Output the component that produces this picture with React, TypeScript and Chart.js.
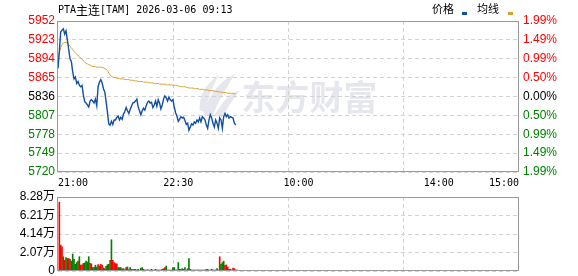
import React, { useEffect, useRef } from 'react';
import { Chart, registerables } from 'chart.js';

Chart.register(...registerables);

const TITLE = 'PTA主连[TAM] 2026-03-06 09:13';
const LEGEND_LABELS = ['价格', '均线'];
const WATERMARK = '东方财富';
const BASE_PRICE = 5836;
const PRICE_TICKS = [5720, 5749, 5778, 5807, 5836, 5865, 5894, 5923, 5952];
const VOL_TICKS = [0, 20700, 41400, 62100, 82800];
const TIME_TICKS = [0, 90, 180, 285, 345];
const TIME_LABELS = ['21:00', '22:30', '10:00', '14:00', '15:00'];
const TOTAL_MIN = 345;

const prices = [
  5879, 5905, 5935, 5938, 5940, 5932, 5937, 5923, 5909, 5894,
  5890, 5874, 5863, 5866, 5856, 5859, 5853, 5851, 5853, 5838,
  5828, 5826, 5823, 5820, 5829, 5831, 5829, 5826, 5832, 5822,
  5851, 5858, 5862, 5857, 5848, 5843, 5828, 5812, 5794, 5792,
  5798, 5793, 5800, 5800, 5804, 5806, 5800, 5804, 5801, 5809,
  5813, 5819, 5814, 5810, 5816, 5821, 5826, 5827, 5829, 5832,
  5820, 5814, 5808, 5814, 5818, 5815, 5822, 5827, 5829, 5826,
  5827, 5819, 5823, 5829, 5821, 5831, 5826, 5817, 5823, 5832,
  5837, 5834, 5829, 5835, 5831, 5829, 5831, 5820, 5811, 5806,
  5798, 5801, 5805, 5803, 5804, 5799, 5793, 5795, 5784, 5789,
  5794, 5792, 5797, 5795, 5800, 5797, 5803, 5797, 5805, 5803,
  5800, 5792, 5787, 5800, 5808, 5803, 5795, 5789, 5800, 5795,
  5787, 5803, 5800, 5787, 5805, 5810, 5805, 5808, 5803, 5805,
  5804, 5803, 5795, 5792,
];

const avgPrices = [
  5890, 5904, 5911, 5916, 5918, 5919, 5919, 5918, 5916, 5913,
  5911, 5908, 5905, 5903, 5901, 5899, 5897, 5895, 5893, 5891,
  5889, 5887, 5886, 5885, 5884, 5883, 5882, 5882, 5882, 5881,
  5881, 5881, 5881, 5881, 5880, 5879, 5878, 5876, 5872, 5869,
  5867, 5866, 5865, 5865, 5864, 5864, 5864, 5863, 5863, 5863,
  5862, 5862, 5862, 5862, 5861, 5861, 5861, 5860, 5860, 5860,
  5859, 5859, 5859, 5859, 5858, 5858, 5858, 5858, 5857, 5857,
  5857, 5857, 5856, 5856, 5856, 5856, 5855, 5855, 5855, 5855,
  5855, 5854, 5854, 5854, 5854, 5854, 5853, 5853, 5853, 5853,
  5852, 5852, 5851, 5851, 5851, 5851, 5850, 5850, 5849, 5849,
  5849, 5849, 5848, 5848, 5848, 5848, 5847, 5847, 5847, 5847,
  5846, 5846, 5846, 5845, 5845, 5845, 5845, 5844, 5844, 5844,
  5843, 5843, 5843, 5842, 5842, 5842, 5842, 5841, 5841, 5841,
  5841, 5841, 5840, 5840,
];

const volumes = [
  77000, 29000, 27000, 16000, 12000, 15000, 14000, 14000, 13000, 11000,
  19000, 13000, 7500, 9500, 11000, 16000, 6500, 6800, 8500, 9000,
  11000, 10000, 16000, 8500, 8000, 3800, 4200, 6500, 4300, 7300,
  5600, 7500, 6500, 3400, 2600, 5200, 7000, 7500, 12000, 35000,
  12000, 9400, 8300, 7900, 3800, 3800, 3800, 2300, 2600, 1500,
  3800, 4500, 1500, 3800, 1900, 1500, 1900, 1900, 1100, 1900,
  1100, 3400, 3800, 1900, 1100, 1100, 1500, 1100, 1100, 1900,
  1100, 1100, 1900, 1100, 1100, 1100, 1100, 1900, 2600, 3800,
  5600, 1100, 1100, 1100, 1100, 3800, 3800, 1100, 1100, 9400,
  1900, 1900, 2600, 1900, 3800, 1100, 2600, 14000, 1900, 1100,
  1100, 1100, 1100, 1100, 1100, 1100, 1100, 1100, 1100, 1100,
  1900, 1900, 1100, 1100, 1900, 1100, 1100, 1100, 2600, 1100,
  16000, 7500, 9400, 11000, 6400, 6800, 4500, 1900, 1900, 1100,
  3400, 2600, 1100, 1100,
];

const volUp = [
  1, 1, 1, 0, 1, 0, 0, 1, 0, 1,
  0, 0, 0, 0, 1, 0, 1, 1, 1, 0,
  0, 0, 0, 1, 1, 0, 0, 0, 0, 1,
  0, 1, 1, 0, 1, 0, 0, 0, 1, 0,
  1, 1, 1, 1, 0, 0, 0, 1, 0, 1,
  1, 0, 1, 0, 1, 1, 1, 1, 1, 0,
  0, 0, 0, 1, 1, 1, 1, 1, 1, 0,
  1, 1, 0, 0, 1, 1, 0, 0, 1, 1,
  0, 1, 1, 1, 0, 0, 0, 1, 0, 0,
  0, 1, 0, 1, 0, 1, 1, 0, 1, 1,
  1, 1, 0, 1, 1, 1, 1, 1, 0, 1,
  1, 0, 1, 1, 0, 0, 1, 1, 0, 1,
  1, 0, 0, 0, 1, 1, 1, 0, 0, 1,
  1, 1, 0, 1,
];

const RED = '#ff0000';
const GREEN = '#008000';
const PRICE_COLOR = '#114fa3';
const AVG_COLOR = '#dca12a';
const GRID_COLOR = '#d2d2d2';
const FRAME_COLOR = '#9a9a9a';
const NUM_FONT = "'Liberation Sans', 'Noto Sans CJK SC', sans-serif";

const priceColor = (v: number) => (v > BASE_PRICE ? RED : v < BASE_PRICE ? GREEN : '#000000');

const framePlugin = {
  id: 'frame',
  afterDatasetsDraw(chart: any) {
    const { ctx, chartArea: a } = chart;
    ctx.save();
    ctx.strokeStyle = FRAME_COLOR;
    ctx.lineWidth = 1;
    ctx.strokeRect(Math.round(a.left) - 0.5, Math.round(a.top) + 0.5, Math.round(a.right - a.left), Math.round(a.bottom - a.top) - 1);
    ctx.restore();
  },
};

function drawRuns(ctx: CanvasRenderingContext2D, text: string, x: number, y: number) {
  for (const ch of text) {
    const cjk = /[\u3000-\u9fff]/.test(ch);
    ctx.font = cjk ? "12px 'Noto Sans CJK SC'" : "10px 'DejaVu Sans Mono'";
    ctx.fillText(ch, x, y);
    x += ctx.measureText(ch).width;
  }
}

const headerPlugin = {
  id: 'header',
  afterDraw(chart: any) {
    const { ctx, chartArea: a } = chart;
    ctx.save();
    ctx.fillStyle = '#000';
    ctx.textBaseline = 'middle';
    ctx.textAlign = 'left';
    drawRuns(ctx, TITLE, a.left, 10);
    ctx.font = "11px 'Noto Sans CJK SC'";
    ctx.fillText(LEGEND_LABELS[0], 432, 9);
    ctx.fillStyle = PRICE_COLOR;
    ctx.fillRect(462, 12, 5, 3);
    ctx.fillStyle = '#000';
    ctx.fillText(LEGEND_LABELS[1], 477, 9);
    ctx.fillStyle = AVG_COLOR;
    ctx.fillRect(508, 12, 5, 3);
    ctx.restore();
  },
};

const watermarkPlugin = {
  id: 'watermark',
  beforeDraw(chart: any) {
    const { ctx, chartArea: a } = chart;
    const cx = (a.left + a.right) / 2;
    const cy = (a.top + a.bottom) / 2;
    const lx = cx - 89;
    ctx.save();
    ctx.fillStyle = '#e6e7ee';
    // stylised feather logo
    ctx.beginPath();
    ctx.moveTo(lx + 4, cy + 18);
    ctx.quadraticCurveTo(lx + 10, cy - 10, lx + 36, cy - 23);
    ctx.quadraticCurveTo(lx + 22, cy - 2, lx + 13, cy + 19);
    ctx.closePath();
    ctx.fill();
    ctx.beginPath();
    ctx.moveTo(lx + 0, cy + 14);
    ctx.quadraticCurveTo(lx - 1, cy - 8, lx + 20, cy - 22);
    ctx.quadraticCurveTo(lx + 8, cy - 3, lx + 6, cy + 16);
    ctx.closePath();
    ctx.fill();
    ctx.beginPath();
    ctx.moveTo(lx + 15, cy + 19);
    ctx.quadraticCurveTo(lx + 26, cy - 2, lx + 40, cy - 6);
    ctx.quadraticCurveTo(lx + 30, cy + 8, lx + 22, cy + 21);
    ctx.closePath();
    ctx.fill();
    ctx.font = "bold 34px 'Noto Sans CJK SC'";
    ctx.textBaseline = 'middle';
    ctx.textAlign = 'left';
    ctx.fillText(WATERMARK, lx + 42, cy + 1);
    ctx.restore();
  },
};

const quarterTicks = (s: any) => {
  s.ticks = [1, 2, 3].map((k) => ({ value: s.min + ((s.max - s.min) * k) / 4 }));
};

const fixWidth = (w: number) => (s: any) => {
  s.width = w;
  s.paddingTop = 0;
  s.paddingBottom = 0;
};

export default function App() {
  const priceRef = useRef<HTMLCanvasElement>(null);
  const volRef = useRef<HTMLCanvasElement>(null);

  useEffect(() => {
    const priceChart = new Chart(priceRef.current as HTMLCanvasElement, {
      type: 'line',
      data: {
        datasets: [
          {
            label: LEGEND_LABELS[0],
            data: prices.map((y, x) => ({ x, y })),
            borderColor: PRICE_COLOR,
            borderWidth: 1.4,
            pointRadius: 0,
            tension: 0,
            fill: false,
          },
          {
            label: LEGEND_LABELS[1],
            data: avgPrices.map((y, x) => ({ x, y })),
            borderColor: AVG_COLOR,
            borderWidth: 1,
            pointRadius: 0,
            tension: 0,
            fill: false,
          },
        ],
      },
      options: {
        responsive: false,
        animation: false,
        devicePixelRatio: 1,
        layout: { padding: { top: 21, left: 0, right: 0, bottom: 0 } },
        plugins: { legend: { display: false }, tooltip: { enabled: false }, title: { display: false } },
        scales: {
          x: {
            type: 'linear',
            min: 0,
            max: TOTAL_MIN,
            position: 'bottom',
            afterBuildTicks: (s: any) => {
              s.ticks = TIME_TICKS.map((v) => ({ value: v }));
            },
            afterFit: (s: any) => {
              s.height = 24;
              s.paddingLeft = 0;
              s.paddingRight = 0;
            },
            grid: { display: false, drawTicks: false },
            border: { display: false },
            ticks: {
              align: 'inner',
              autoSkip: false,
              maxRotation: 0,
              padding: 5,
              color: '#000',
              font: { family: "'DejaVu Sans Mono', monospace", size: 10 },
              callback: (v: any) => TIME_LABELS[TIME_TICKS.indexOf(Number(v))],
            },
          },
          xg: {
            type: 'linear',
            min: 0,
            max: TOTAL_MIN,
            position: 'bottom',
            afterBuildTicks: quarterTicks,
            afterFit: (s: any) => {
              s.height = 0;
            },
            ticks: { display: false },
            grid: { color: GRID_COLOR, drawTicks: false },
            border: { display: false, dash: [4, 3] },
          },
          y: {
            type: 'linear',
            position: 'left',
            min: PRICE_TICKS[0],
            max: PRICE_TICKS[PRICE_TICKS.length - 1],
            afterBuildTicks: (s: any) => {
              s.ticks = PRICE_TICKS.map((v) => ({ value: v }));
            },
            afterFit: fixWidth(58),
            grid: { color: GRID_COLOR, drawTicks: false },
            border: { display: false, dash: [4, 3] },
            ticks: {
              padding: 3,
              color: (c: any) => priceColor(c.tick.value),
              font: { family: NUM_FONT, size: 12 },
              callback: (v: any) => String(v),
            },
          },
          y1: {
            type: 'linear',
            position: 'right',
            min: PRICE_TICKS[0],
            max: PRICE_TICKS[PRICE_TICKS.length - 1],
            afterBuildTicks: (s: any) => {
              s.ticks = PRICE_TICKS.map((v) => ({ value: v }));
            },
            afterFit: fixWidth(59),
            grid: { display: false, drawTicks: false },
            border: { display: false },
            ticks: {
              padding: 4,
              color: (c: any) => priceColor(c.tick.value),
              font: { family: NUM_FONT, size: 12 },
              callback: (v: any) => ((Math.abs(Number(v) - BASE_PRICE) / BASE_PRICE) * 100).toFixed(2) + '%',
            },
          },
        },
      } as any,
      plugins: [watermarkPlugin, framePlugin, headerPlugin],
    });

    const volChart = new Chart(volRef.current as HTMLCanvasElement, {
      type: 'bar',
      data: {
        datasets: [
          {
            data: volumes.map((y, x) => ({ x, y })),
            backgroundColor: volUp.map((u) => (u ? RED : GREEN)),
            borderWidth: 0,
            barThickness: 1,
          },
        ],
      },
      options: {
        responsive: false,
        animation: false,
        devicePixelRatio: 1,
        layout: { padding: { top: 11, bottom: 5, left: 0, right: 59 } },
        plugins: { legend: { display: false }, tooltip: { enabled: false } },
        scales: {
          x: {
            type: 'linear',
            min: -1,
            max: TOTAL_MIN - 1,
            offset: false,
            afterBuildTicks: quarterTicks,
            afterFit: (s: any) => {
              s.height = 0;
              s.paddingLeft = 0;
              s.paddingRight = 0;
            },
            ticks: { display: false },
            grid: { color: GRID_COLOR, drawTicks: false, offset: false },
            border: { display: false, dash: [4, 3] },
          },
          y: {
            type: 'linear',
            position: 'left',
            min: VOL_TICKS[0],
            max: VOL_TICKS[VOL_TICKS.length - 1],
            afterBuildTicks: (s: any) => {
              s.ticks = VOL_TICKS.map((v) => ({ value: v }));
            },
            afterFit: fixWidth(58),
            grid: { color: GRID_COLOR, drawTicks: false },
            border: { display: false, dash: [4, 3] },
            ticks: {
              padding: 3,
              color: '#000',
              font: { family: NUM_FONT, size: 12 },
              callback: (v: any) => (Number(v) === 0 ? '0' : (Number(v) / 10000).toFixed(2) + '万'),
            },
          },
        },
      } as any,
      plugins: [framePlugin],
    });

    return () => {
      priceChart.destroy();
      volChart.destroy();
    };
  }, []);

  return (
    <div style={{ position: 'fixed', left: 0, top: 0, width: 578, height: 276, background: '#fff' }}>
      <canvas ref={priceRef} width={578} height={196} style={{ position: 'absolute', left: 0, top: 0 }} />
      <canvas ref={volRef} width={578} height={90} style={{ position: 'absolute', left: 0, top: 186 }} />
    </div>
  );
}
